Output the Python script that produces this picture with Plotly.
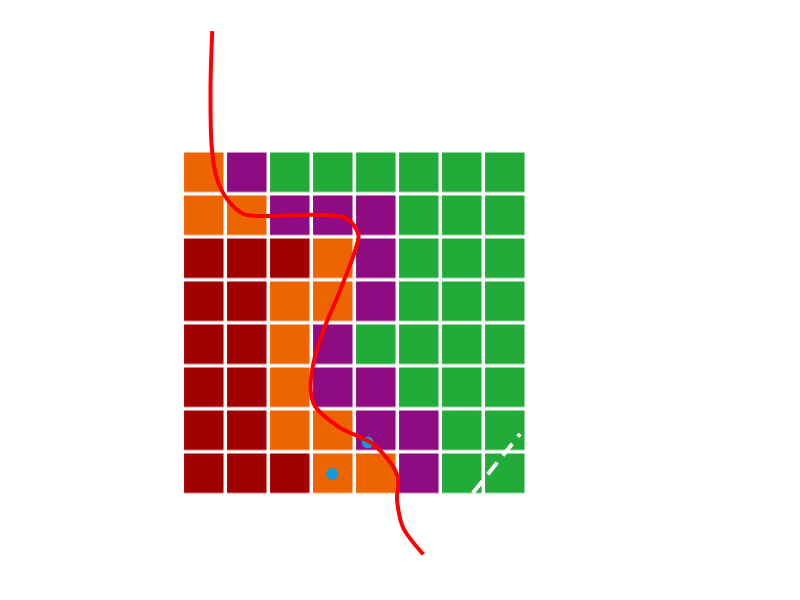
import plotly.graph_objects as go

# grid categories, rows listed top to bottom
# 0 = dark red, 1 = orange, 2 = purple, 3 = green
rows_top_down = [
    [1, 2, 3, 3, 3, 3, 3, 3],
    [1, 1, 2, 2, 2, 3, 3, 3],
    [0, 0, 0, 1, 2, 3, 3, 3],
    [0, 0, 1, 1, 2, 3, 3, 3],
    [0, 0, 1, 2, 3, 3, 3, 3],
    [0, 0, 1, 2, 2, 3, 3, 3],
    [0, 0, 1, 1, 2, 2, 3, 3],
    [0, 0, 0, 1, 1, 2, 3, 3],
]
grid_x = list(range(8))
grid_y = list(range(8))
grid_z = rows_top_down[::-1]

# red path
path_x = [0.18, 0.14, 0.17, 0.28, 0.52, 0.90, 1.52, 2.60, 3.30, 3.58, 3.50,
          3.15, 2.76, 2.53, 2.47, 2.57, 3.15, 3.93, 4.47, 4.48, 4.62, 5.09]
path_y = [10.30, 8.98, 7.59, 6.89, 6.40, 6.05, 6.00, 6.03, 5.95, 5.57, 5.19,
          4.26, 3.33, 2.56, 1.93, 1.58, 1.08, 0.69, 0.00, -0.63, -1.25, -1.87]

# blue points
dot_x = [2.97, 3.80]
dot_y = [0.0, 0.73]

# white dashed segment
dash_x = [6.24, 7.34]
dash_y = [-0.44, 0.93]

colors = ["#a10000", "#ec6500", "#8e0b82", "#23ab3a"]
scale = []
for i, c in enumerate(colors):
    scale.append([i / 4, c])
    scale.append([(i + 1) / 4, c])

fig = go.Figure()

fig.add_trace(go.Heatmap(
    x=grid_x, y=grid_y, z=grid_z,
    zmin=-0.5, zmax=3.5,
    colorscale=scale,
    showscale=False,
    xgap=3.5, ygap=3.5,
))

fig.add_trace(go.Scatter(
    x=dash_x, y=dash_y, mode="lines",
    line=dict(color="white", width=4, dash="15px,9px"),
    showlegend=False,
))

fig.add_trace(go.Scatter(
    x=dot_x, y=dot_y, mode="markers",
    marker=dict(color="#0f9be0", size=12),
    showlegend=False,
))

fig.add_trace(go.Scatter(
    x=path_x, y=path_y, mode="lines",
    line=dict(color="#ff0000", width=4, shape="spline", smoothing=0.9),
    showlegend=False,
))

# ranges shifted to allow for the page's 8px body margin
fig.update_xaxes(visible=False, range=[-4.57, 14.035])
fig.update_yaxes(visible=False, range=[-3.116, 10.837])
fig.update_layout(
    width=800, height=600,
    margin=dict(l=0, r=0, t=0, b=0),
    plot_bgcolor="white", paper_bgcolor="white",
    showlegend=False,
)

fig.write_html("out.html")
